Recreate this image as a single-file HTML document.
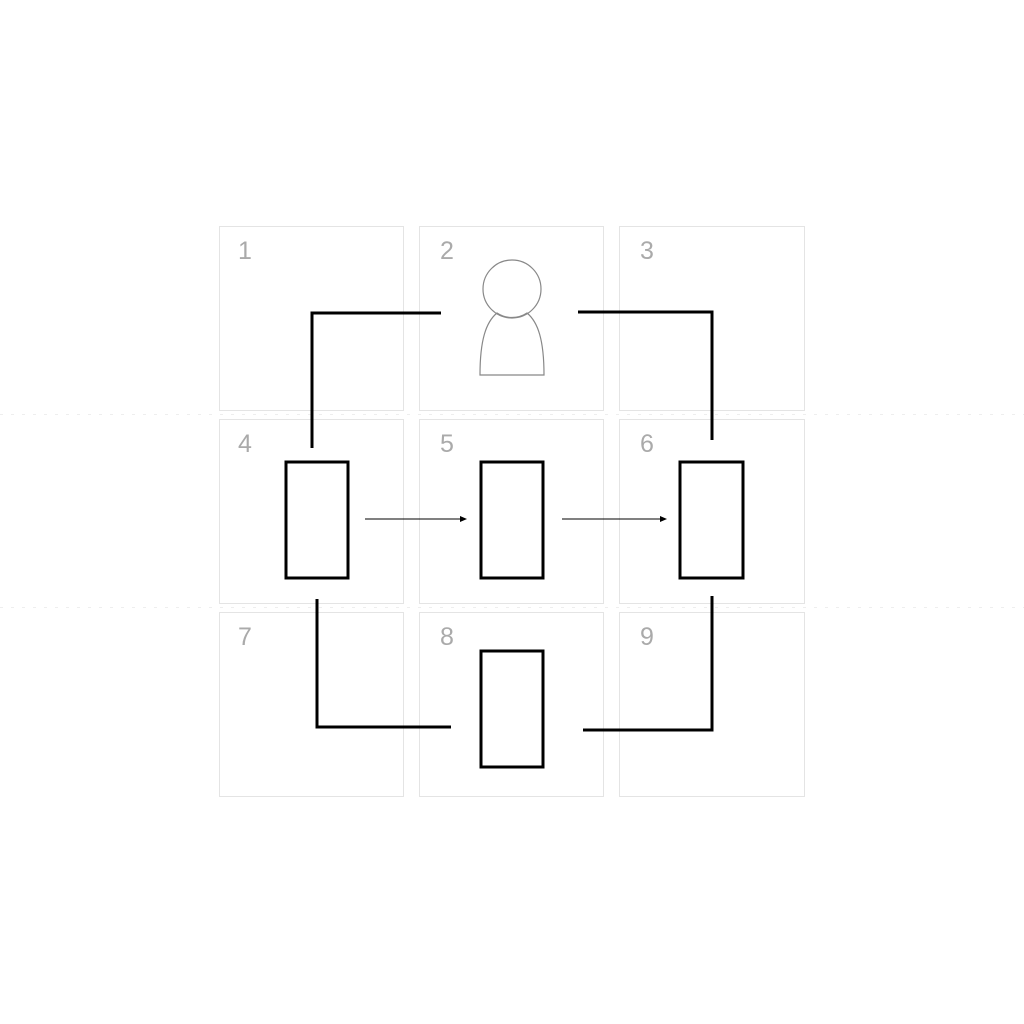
<!DOCTYPE html>
<html><head><style>body{margin:0;background:#fff}svg{display:block}</style></head><body>
<svg width="1024" height="1024" xmlns="http://www.w3.org/2000/svg">
<rect width="1024" height="1024" fill="#fff"/>
<g fill="none" stroke="#e4e4e4" stroke-width="1">
<rect x="219.5" y="226.5" width="184" height="184"/><rect x="419.5" y="226.5" width="184" height="184"/><rect x="619.5" y="226.5" width="185" height="184"/>
<rect x="219.5" y="419.5" width="184" height="184"/><rect x="419.5" y="419.5" width="184" height="184"/><rect x="619.5" y="419.5" width="185" height="184"/>
<rect x="219.5" y="612.5" width="184" height="184"/><rect x="419.5" y="612.5" width="184" height="184"/><rect x="619.5" y="612.5" width="185" height="184"/>
</g>
<g stroke="#eee" stroke-dasharray="3 8"><line x1="0" y1="414.5" x2="1024" y2="414.5"/><line x1="0" y1="607.5" x2="1024" y2="607.5"/></g>
<g font-family="Liberation Sans, sans-serif" font-size="25" fill="#aaa" text-anchor="middle">
<text x="245" y="259">1</text><text x="447" y="259">2</text><text x="647" y="259">3</text>
<text x="245" y="452">4</text><text x="447" y="452">5</text><text x="647" y="452">6</text>
<text x="245" y="645">7</text><text x="447" y="645">8</text><text x="647" y="645">9</text>
</g>
<g fill="none" stroke="#888" stroke-width="1.2">
<circle cx="512" cy="289" r="29"/>
<path d="M480,375 L544,375 C544,340 538,322 527,313 C518,319 506,319 497,313 C486,322 480,340 480,375 Z"/>
</g>
<g fill="none" stroke="#000" stroke-width="3">
<polyline points="441,313 312,313 312,448"/>
<polyline points="578,312 712,312 712,440"/>
<polyline points="317,599 317,727 451,727"/>
<polyline points="712,596 712,730 583,730"/>
<rect x="286" y="462" width="62" height="116"/>
<rect x="481" y="462" width="62" height="116"/>
<rect x="680" y="462" width="63" height="116"/>
<rect x="481" y="651" width="62" height="116"/>
</g>
<g stroke="#000" stroke-width="1"><line x1="365" y1="519" x2="461" y2="519"/><line x1="562" y1="519" x2="661" y2="519"/></g>
<polygon points="467,519 460,516 460,522" fill="#000"/>
<polygon points="667,519 660,516 660,522" fill="#000"/>
</svg>
</body></html>
